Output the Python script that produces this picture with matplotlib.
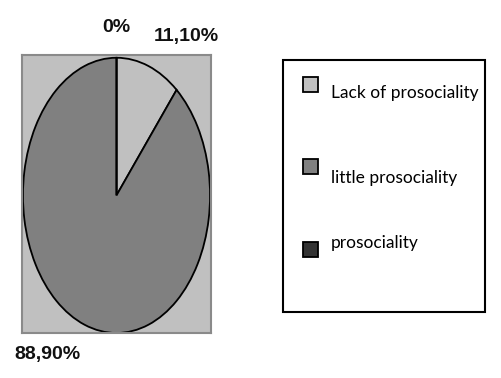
import matplotlib.pyplot as plt
from matplotlib.patches import Rectangle

categories = ['Lack of prosociality', 'little prosociality', 'prosociality']
values = [11.1, 88.9, 0.0]
value_labels = ['11,10%', '88,90%', '0%']
colors = ['#c0c0c0', '#808080', '#333333']

W, H = 501, 378
fig = plt.figure(figsize=(W / 100, H / 100), dpi=100)

# pie area (stretched, so the pie becomes an ellipse)
ax = fig.add_axes([22 / W, 1 - 333 / H, 189 / W, 278 / H])
ax.pie(values, colors=colors, startangle=90, counterclock=False, radius=1,
       wedgeprops=dict(edgecolor='black', linewidth=1.3))
ax.set_aspect('auto')
ax.set_frame_on(True)
ax.set_facecolor('#c0c0c0')
for s in ax.spines.values():
    s.set_color('#8a8a8a')
    s.set_linewidth(1.5)
ax.set_xticks([])
ax.set_yticks([])
ax.set_xlim(-1.01, 1.01)
ax.set_ylim(-1.0, 1.02)

# value labels
lab_font = dict(family=['Liberation Sans Narrow', 'DejaVu Sans Condensed', 'Liberation Sans'],
                fontsize=14, fontweight='bold', color='#111111')
fig.text(116 / W, 1 - 28 / H, value_labels[2], ha='center', va='center', **lab_font)
fig.text(186 / W, 1 - 36 / H, value_labels[0], ha='center', va='center', **lab_font)
fig.text(47 / W, 1 - 354 / H, value_labels[1], ha='center', va='center', **lab_font)

# legend box
fig.patches.append(Rectangle((283 / W, 1 - 312 / H), 202 / W, 252 / H,
                             transform=fig.transFigure, facecolor='white',
                             edgecolor='black', linewidth=1.5))
patch_y = [85, 167, 250]
text_y = [93, 178, 243]
for c, name, py, ty in zip(colors, categories, patch_y, text_y):
    fig.patches.append(Rectangle((303 / W, 1 - (py + 7) / H), 15 / W, 15 / H,
                                 transform=fig.transFigure, facecolor=c,
                                 edgecolor='black', linewidth=1.3))
    fig.text(331 / W, 1 - ty / H, name, ha='left', va='center',
             family=['Lato', 'DejaVu Sans'], fontsize=12.5, color='black')

fig.savefig('out.png', dpi=100)
